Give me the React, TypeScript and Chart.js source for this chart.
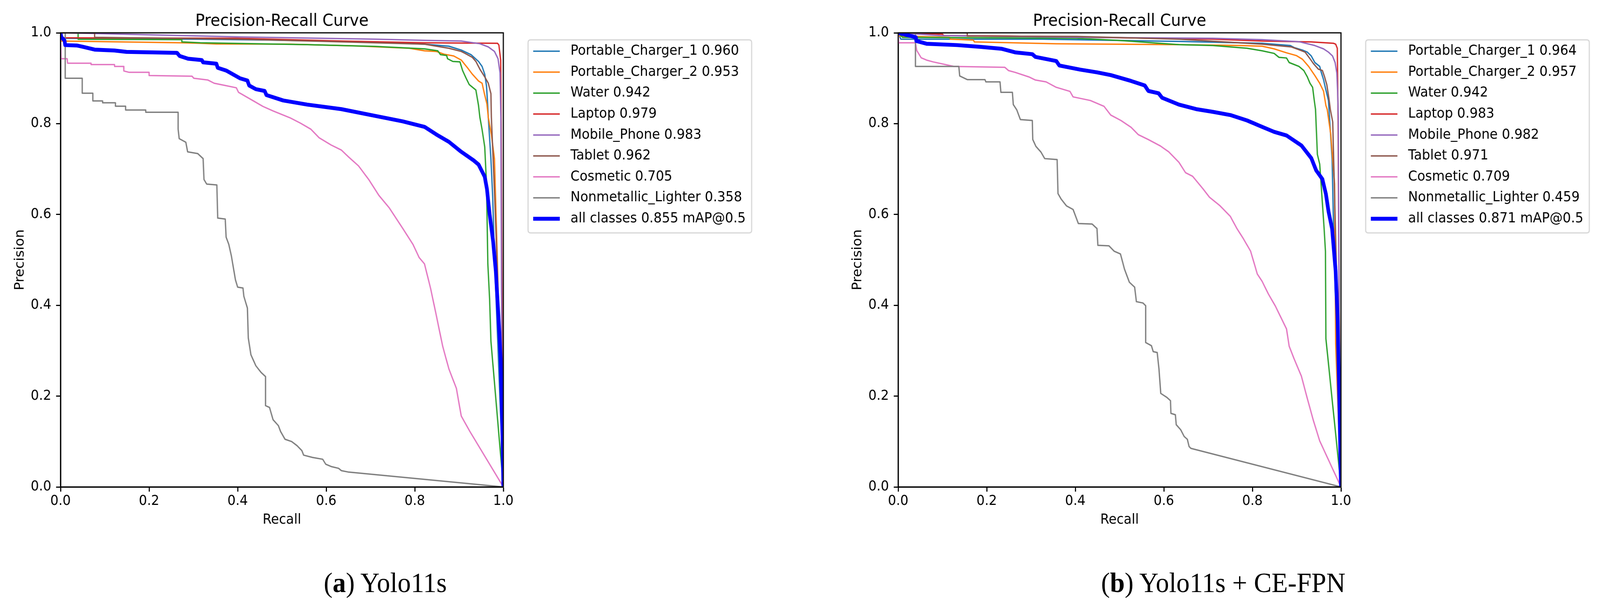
import React, { useEffect, useRef } from "react";
import { Chart, registerables } from "chart.js";

Chart.register(...registerables);

type Pt = [number, number];

// ---------- data ----------
const CLASS_NAMES = [
  "Portable_Charger_1",
  "Portable_Charger_2",
  "Water",
  "Laptop",
  "Mobile_Phone",
  "Tablet",
  "Cosmetic",
  "Nonmetallic_Lighter",
];
const CLASS_COLORS = ["#1f77b4", "#ff7f0e", "#2ca02c", "#d62728", "#9467bd", "#8c564b", "#e377c2", "#7f7f7f"];
const ALL_COLOR = "#0000ff";

const AP_A = [0.96, 0.953, 0.942, 0.979, 0.983, 0.962, 0.705, 0.358];
const AP_B = [0.964, 0.957, 0.942, 0.983, 0.982, 0.971, 0.709, 0.459];
const MAP_A = 0.855;
const MAP_B = 0.871;

const AXIS_TICKS = [0, 0.2, 0.4, 0.6, 0.8, 1.0];
const TITLE = "Precision-Recall Curve";
const X_TITLE = "Recall";
const Y_TITLE = "Precision";
const CAPTION_A = { tag: "a", text: "Yolo11s" };
const CAPTION_B = { tag: "b", text: "Yolo11s + CE-FPN" };

// ----- (a) Yolo11s : [recall, precision]
const PC1_A: Pt[] = [[0, 1.0], [0.005, 0.988], [0.3, 0.986], [0.48, 0.984], [0.711, 0.98], [0.822, 0.975], [0.877, 0.9705], [0.905, 0.962], [0.927, 0.952], [0.944, 0.937], [0.952, 0.926], [0.958, 0.909], [0.962, 0.883], [0.9647, 0.84], [0.966, 0.814], [0.972, 0.722], [0.976, 0.639], [0.98, 0.502], [0.9856, 0.365], [0.991, 0.228], [1.0, 0]];
const PC2_A: Pt[] = [[0, 0.982], [0.274, 0.978], [0.316, 0.977], [0.352, 0.9755], [0.518, 0.975], [0.673, 0.971], [0.788, 0.966], [0.822, 0.9604], [0.849, 0.959], [0.866, 0.953], [0.888, 0.949], [0.905, 0.94], [0.919, 0.923], [0.93, 0.909], [0.944, 0.894], [0.952, 0.889], [0.958, 0.863], [0.963, 0.843], [0.966, 0.814], [0.973, 0.776], [0.98, 0.722], [0.9856, 0.53], [0.992, 0.3], [1.0, 0]];
const WATER_A: Pt[] = [[0, 1.0], [0.0397, 1.0], [0.0397, 0.9857], [0.274, 0.985], [0.274, 0.98], [0.316, 0.978], [0.557, 0.974], [0.711, 0.97], [0.822, 0.9647], [0.852, 0.9604], [0.858, 0.952], [0.872, 0.95], [0.874, 0.943], [0.886, 0.937], [0.902, 0.936], [0.908, 0.917], [0.916, 0.9], [0.923, 0.886], [0.938, 0.874], [0.944, 0.84], [0.947, 0.814], [0.952, 0.787], [0.958, 0.749], [0.962, 0.667], [0.965, 0.491], [0.969, 0.414], [0.972, 0.321], [1.0, 0]];
const LAPTOP_A: Pt[] = [[0, 0.989], [0.4, 0.988], [0.634, 0.982], [0.82, 0.978], [0.987, 0.977], [0.99, 0.973], [0.994, 0.94], [0.995, 0.8], [0.997, 0.4], [0.999, 0.05], [1.0, 0]];
const MOBILE_A: Pt[] = [[0, 1.0], [0.058, 0.999], [0.405, 0.991], [0.711, 0.986], [0.822, 0.9834], [0.905, 0.982], [0.947, 0.976], [0.966, 0.969], [0.98, 0.959], [0.988, 0.943], [0.9925, 0.912], [0.9944, 0.814], [0.996, 0.4], [0.998, 0.05], [1.0, 0]];
const TABLET_A: Pt[] = [[0, 1.0], [0.077, 1.0], [0.077, 0.99], [0.4, 0.986], [0.6, 0.981], [0.822, 0.975], [0.877, 0.966], [0.905, 0.959], [0.913, 0.955], [0.93, 0.946], [0.938, 0.937], [0.947, 0.92], [0.958, 0.903], [0.966, 0.889], [0.972, 0.866], [0.973, 0.814], [0.977, 0.722], [0.98, 0.65], [0.9856, 0.502], [0.992, 0.3], [1.0, 0]];
const COSMETIC_A: Pt[] = [[0, 1.0], [0.001, 0.943], [0.015, 0.943], [0.016, 0.933], [0.069, 0.933], [0.069, 0.93], [0.122, 0.93], [0.122, 0.926], [0.1425, 0.926], [0.143, 0.916], [0.155, 0.913], [0.2, 0.913], [0.2, 0.906], [0.297, 0.9045], [0.301, 0.9], [0.333, 0.896], [0.347, 0.889], [0.372, 0.884], [0.397, 0.879], [0.402, 0.869], [0.434, 0.851], [0.457, 0.838], [0.48, 0.828], [0.518, 0.813], [0.542, 0.801], [0.565, 0.788], [0.584, 0.769], [0.611, 0.753], [0.634, 0.742], [0.649, 0.728], [0.673, 0.707], [0.696, 0.677], [0.719, 0.642], [0.742, 0.615], [0.773, 0.569], [0.796, 0.534], [0.81, 0.505], [0.822, 0.491], [0.836, 0.436], [0.849, 0.376], [0.863, 0.31], [0.877, 0.26], [0.894, 0.217], [0.905, 0.156], [0.924, 0.123], [1.0, 0]];
const LIGHTER_A: Pt[] = [[0, 1.0], [0.0106, 1.0], [0.0106, 0.9], [0.049, 0.9], [0.049, 0.867], [0.073, 0.867], [0.073, 0.85], [0.095, 0.85], [0.095, 0.846], [0.124, 0.846], [0.124, 0.8385], [0.147, 0.8385], [0.147, 0.83], [0.1925, 0.83], [0.1925, 0.825], [0.2656, 0.825], [0.2656, 0.788], [0.268, 0.767], [0.283, 0.759], [0.287, 0.738], [0.31, 0.734], [0.322, 0.723], [0.324, 0.677], [0.33, 0.667], [0.353, 0.665], [0.355, 0.592], [0.372, 0.59], [0.374, 0.55], [0.38, 0.534], [0.386, 0.508], [0.395, 0.456], [0.4, 0.44], [0.412, 0.438], [0.414, 0.42], [0.422, 0.394], [0.424, 0.328], [0.43, 0.291], [0.441, 0.267], [0.453, 0.252], [0.463, 0.243], [0.463, 0.179], [0.472, 0.175], [0.48, 0.148], [0.492, 0.135], [0.497, 0.122], [0.507, 0.105], [0.522, 0.1], [0.534, 0.091], [0.545, 0.08], [0.549, 0.07], [0.569, 0.065], [0.592, 0.061], [0.599, 0.05], [0.611, 0.045], [0.628, 0.041], [0.634, 0.036], [0.649, 0.033], [1.0, 0]];
const ALL_A: Pt[] = [[0, 1.0], [0.002, 0.9905], [0.009, 0.983], [0.0106, 0.973], [0.038, 0.972], [0.052, 0.969], [0.077, 0.963], [0.122, 0.961], [0.149, 0.958], [0.263, 0.956], [0.269, 0.949], [0.288, 0.943], [0.319, 0.94], [0.322, 0.935], [0.352, 0.932], [0.355, 0.923], [0.374, 0.917], [0.405, 0.9], [0.422, 0.895], [0.426, 0.884], [0.441, 0.876], [0.461, 0.872], [0.465, 0.863], [0.503, 0.851], [0.557, 0.842], [0.634, 0.832], [0.711, 0.817], [0.773, 0.805], [0.822, 0.793], [0.849, 0.776], [0.877, 0.76], [0.905, 0.738], [0.933, 0.719], [0.944, 0.71], [0.958, 0.683], [0.963, 0.656], [0.969, 0.601], [0.977, 0.54], [0.983, 0.475], [0.988, 0.392], [0.994, 0.283], [0.998, 0.118], [1.0, 0]];

// ----- (b) Yolo11s + CE-FPN
const PC1_B: Pt[] = [[0, 1.0], [0.006, 0.986], [0.326, 0.986], [0.634, 0.981], [0.822, 0.977], [0.8856, 0.972], [0.894, 0.9676], [0.913, 0.962], [0.924, 0.9575], [0.933, 0.949], [0.941, 0.9346], [0.952, 0.926], [0.955, 0.9145], [0.9606, 0.897], [0.966, 0.874], [0.9717, 0.851], [0.973, 0.831], [0.98, 0.722], [0.983, 0.584], [0.988, 0.392], [1.0, 0]];
const PC2_B: Pt[] = [[0, 0.993], [0.116, 0.99], [0.118, 0.986], [0.17, 0.984], [0.172, 0.98], [0.357, 0.976], [0.634, 0.974], [0.773, 0.972], [0.822, 0.9705], [0.849, 0.9647], [0.877, 0.956], [0.899, 0.95], [0.913, 0.9418], [0.927, 0.926], [0.941, 0.906], [0.952, 0.889], [0.9606, 0.8715], [0.966, 0.84], [0.969, 0.831], [0.977, 0.776], [0.9856, 0.667], [0.988, 0.315], [1.0, 0]];
const WATER_B: Pt[] = [[0, 1.0], [0.01, 0.99], [0.403, 0.988], [0.503, 0.983], [0.634, 0.974], [0.711, 0.972], [0.788, 0.966], [0.822, 0.9604], [0.849, 0.9547], [0.86, 0.946], [0.877, 0.9446], [0.883, 0.9346], [0.905, 0.926], [0.916, 0.917], [0.924, 0.903], [0.93, 0.889], [0.936, 0.88], [0.9397, 0.851], [0.9425, 0.8313], [0.9467, 0.7325], [0.952, 0.711], [0.962, 0.568], [0.965, 0.5185], [0.966, 0.3264], [0.995, 0.05], [1.0, 0]];
const LAPTOP_B: Pt[] = [[0, 1.0], [0.1, 0.997], [0.103, 0.994], [0.249, 0.993], [0.711, 0.986], [0.822, 0.982], [0.933, 0.98], [0.983, 0.977], [0.988, 0.975], [0.9917, 0.966], [0.9934, 0.814], [0.996, 0.4], [0.998, 0.05], [1.0, 0]];
const MOBILE_B: Pt[] = [[0, 1.0], [0.094, 0.994], [0.403, 0.99], [0.711, 0.988], [0.822, 0.985], [0.905, 0.9805], [0.941, 0.972], [0.9606, 0.9647], [0.9717, 0.9575], [0.981, 0.949], [0.9867, 0.9346], [0.9906, 0.9116], [0.9925, 0.8686], [0.994, 0.814], [0.996, 0.4], [0.998, 0.05], [1.0, 0]];
const TABLET_B: Pt[] = [[0, 1.0], [0.156, 1.0], [0.156, 0.993], [0.403, 0.992], [0.634, 0.986], [0.822, 0.975], [0.888, 0.969], [0.905, 0.963], [0.919, 0.9575], [0.93, 0.943], [0.938, 0.932], [0.949, 0.92], [0.958, 0.917], [0.963, 0.903], [0.968, 0.886], [0.973, 0.854], [0.976, 0.831], [0.9814, 0.804], [0.9856, 0.639], [0.99, 0.475], [1.0, 0]];
const COSMETIC_B: Pt[] = [[0, 1.0], [0.001, 0.978], [0.039, 0.978], [0.042, 0.961], [0.052, 0.945], [0.064, 0.94], [0.079, 0.936], [0.126, 0.926], [0.241, 0.924], [0.249, 0.917], [0.264, 0.913], [0.295, 0.903], [0.31, 0.896], [0.334, 0.892], [0.357, 0.88], [0.388, 0.871], [0.395, 0.859], [0.434, 0.851], [0.465, 0.838], [0.48, 0.819], [0.503, 0.807], [0.526, 0.792], [0.542, 0.776], [0.565, 0.765], [0.592, 0.751], [0.611, 0.738], [0.634, 0.715], [0.649, 0.692], [0.665, 0.684], [0.688, 0.657], [0.703, 0.638], [0.727, 0.619], [0.75, 0.596], [0.765, 0.569], [0.78, 0.546], [0.796, 0.519], [0.811, 0.469], [0.822, 0.4527], [0.836, 0.425], [0.852, 0.398], [0.863, 0.376], [0.877, 0.348], [0.883, 0.31], [0.894, 0.2825], [0.9106, 0.244], [0.924, 0.1947], [0.938, 0.1453], [0.952, 0.1014], [1.0, 0]];
const LIGHTER_B: Pt[] = [[0, 1.0], [0.039, 1.0], [0.039, 0.926], [0.137, 0.926], [0.139, 0.905], [0.156, 0.897], [0.196, 0.897], [0.198, 0.892], [0.23, 0.892], [0.232, 0.869], [0.258, 0.869], [0.26, 0.842], [0.268, 0.83], [0.276, 0.809], [0.303, 0.807], [0.304, 0.765], [0.311, 0.75], [0.322, 0.738], [0.331, 0.723], [0.359, 0.721], [0.361, 0.646], [0.368, 0.634], [0.38, 0.619], [0.395, 0.611], [0.407, 0.58], [0.438, 0.579], [0.449, 0.569], [0.451, 0.532], [0.476, 0.531], [0.488, 0.519], [0.502, 0.513], [0.511, 0.48], [0.522, 0.451], [0.534, 0.44], [0.538, 0.408], [0.553, 0.405], [0.559, 0.399], [0.559, 0.318], [0.572, 0.311], [0.576, 0.298], [0.585, 0.296], [0.589, 0.26], [0.593, 0.206], [0.607, 0.197], [0.615, 0.19], [0.616, 0.162], [0.626, 0.159], [0.628, 0.137], [0.638, 0.126], [0.646, 0.111], [0.653, 0.105], [0.657, 0.089], [0.661, 0.085], [1.0, 0]];
const ALL_B: Pt[] = [[0, 1.0], [0.029, 0.993], [0.04, 0.99], [0.041, 0.982], [0.064, 0.976], [0.133, 0.973], [0.187, 0.969], [0.233, 0.965], [0.264, 0.957], [0.303, 0.953], [0.31, 0.947], [0.357, 0.938], [0.364, 0.928], [0.411, 0.919], [0.449, 0.913], [0.48, 0.907], [0.526, 0.894], [0.557, 0.884], [0.565, 0.872], [0.588, 0.867], [0.596, 0.857], [0.634, 0.842], [0.673, 0.832], [0.711, 0.826], [0.75, 0.819], [0.788, 0.807], [0.822, 0.793], [0.849, 0.782], [0.877, 0.774], [0.9106, 0.752], [0.933, 0.724], [0.944, 0.697], [0.958, 0.678], [0.966, 0.645], [0.972, 0.606], [0.98, 0.568], [0.988, 0.475], [0.9925, 0.365], [0.9967, 0.172], [1.0, 0]];

const CURVES_A = [PC1_A, PC2_A, WATER_A, LAPTOP_A, MOBILE_A, TABLET_A, COSMETIC_A, LIGHTER_A];
const CURVES_B = [PC1_B, PC2_B, WATER_B, LAPTOP_B, MOBILE_B, TABLET_B, COSMETIC_B, LIGHTER_B];

// ---------- layout (in reference pixels) ----------
const PAGE_W = 4336;
const PAGE_H = 1566;
const FONT = "'DejaVu Sans', sans-serif";
const CANVAS_W = 2168;
const CANVAS_H = 1420;
const PLOT_TOP = 84;
const PLOT_BOTTOM = 1246;
const Y_AXIS_W = 140;
const X_AXIS_H = 106;

const framePlugin = {
  id: "prFrame",
  afterDraw(chart: any) {
    const { ctx, chartArea: a } = chart;
    ctx.save();
    // axes frame (all four spines)
    ctx.strokeStyle = "#000";
    ctx.lineWidth = 3;
    ctx.strokeRect(a.left, a.top, a.right - a.left, a.bottom - a.top);
    // title
    ctx.fillStyle = "#000";
    ctx.font = `42.4px ${FONT}`;
    ctx.textAlign = "center";
    ctx.textBaseline = "alphabetic";
    ctx.fillText(TITLE, (a.left + a.right) / 2, 66);
    // legend frame
    const bx = a.right + 67;
    const by = 102;
    const bw = 606;
    const bh = 494;
    const r = 7;
    ctx.beginPath();
    ctx.moveTo(bx + r, by);
    ctx.lineTo(bx + bw - r, by);
    ctx.quadraticCurveTo(bx + bw, by, bx + bw, by + r);
    ctx.lineTo(bx + bw, by + bh - r);
    ctx.quadraticCurveTo(bx + bw, by + bh, bx + bw - r, by + bh);
    ctx.lineTo(bx + r, by + bh);
    ctx.quadraticCurveTo(bx, by + bh, bx, by + bh - r);
    ctx.lineTo(bx, by + r);
    ctx.quadraticCurveTo(bx, by, bx + r, by);
    ctx.closePath();
    ctx.fillStyle = "rgba(255,255,255,0.8)";
    ctx.fill();
    ctx.strokeStyle = "#d6d6d6";
    ctx.lineWidth = 3;
    ctx.stroke();
    // legend entries
    ctx.font = `35.3px ${FONT}`;
    ctx.textAlign = "left";
    ctx.textBaseline = "middle";
    chart.data.datasets.forEach((ds: any, i: number) => {
      const y = 131 + i * 53.6;
      ctx.beginPath();
      ctx.moveTo(a.right + 81, y);
      ctx.lineTo(a.right + 153, y);
      ctx.strokeStyle = ds.borderColor;
      ctx.lineWidth = ds.borderWidth;
      ctx.lineCap = "butt";
      ctx.stroke();
      ctx.fillStyle = "#000";
      ctx.fillText(ds.label, a.right + 182, y);
    });
    ctx.restore();
  },
};

type Props = { left: number; plotLeft: number; plotRight: number; curves: Pt[][]; all: Pt[]; ap: number[]; mapv: number; dpr: number };

function PRChart({ left, plotLeft, plotRight, curves, all, ap, mapv, dpr }: Props) {
  const ref = useRef<HTMLCanvasElement>(null);
  useEffect(() => {
    const canvas = ref.current!;
    const datasets: any[] = curves.map((c, i) => ({
      label: `${CLASS_NAMES[i]} ${ap[i].toFixed(3)}`,
      data: c.map(([x, y]) => ({ x, y })),
      borderColor: CLASS_COLORS[i],
      backgroundColor: CLASS_COLORS[i],
      borderWidth: 3.5,
      pointRadius: 0,
      tension: 0,
      fill: false,
      clip: 0,
      borderJoinStyle: "round",
      order: 8 - i,
    }));
    datasets.push({
      label: `all classes ${mapv.toFixed(3)} mAP@0.5`,
      data: all.map(([x, y]) => ({ x, y })),
      borderColor: ALL_COLOR,
      backgroundColor: ALL_COLOR,
      borderWidth: 10,
      pointRadius: 0,
      tension: 0,
      fill: false,
      clip: 0,
      borderJoinStyle: "round",
      order: 0,
    });
    const tickFont = { family: FONT, size: 35 };
    const zeroPad = (s: any) => {
      s.paddingLeft = 0;
      s.paddingRight = 0;
      s.paddingTop = 0;
      s.paddingBottom = 0;
    };
    const chart = new Chart(canvas, {
      type: "line",
      data: { datasets },
      plugins: [framePlugin],
      options: {
        animation: false,
        responsive: false,
        devicePixelRatio: dpr,
        layout: {
          padding: {
            left: plotLeft - Y_AXIS_W,
            right: CANVAS_W - plotRight,
            top: PLOT_TOP,
            bottom: CANVAS_H - PLOT_BOTTOM - X_AXIS_H,
          },
        },
        plugins: { legend: { display: false }, title: { display: false }, tooltip: { enabled: false } },
        scales: {
          x: {
            type: "linear",
            min: 0,
            max: 1,
            afterBuildTicks: (s: any) => {
              s.ticks = AXIS_TICKS.map((v) => ({ value: v }));
            },
            afterFit: (s: any) => {
              s.height = X_AXIS_H;
              zeroPad(s);
            },
            ticks: {
              callback: (v: any) => Number(v).toFixed(1),
              font: tickFont,
              color: "#000",
              padding: 4,
              maxRotation: 0,
              autoSkip: false,
            },
            grid: { drawOnChartArea: false, drawTicks: true, tickLength: 12, tickWidth: 3, tickColor: "#000" },
            border: { display: true, color: "#000", width: 3 },
            title: { display: true, text: X_TITLE, font: tickFont, color: "#000", padding: { top: 0, bottom: 0 } },
          },
          y: {
            type: "linear",
            min: 0,
            max: 1,
            afterBuildTicks: (s: any) => {
              s.ticks = AXIS_TICKS.map((v) => ({ value: v }));
            },
            afterFit: (s: any) => {
              s.width = Y_AXIS_W;
              zeroPad(s);
            },
            ticks: {
              callback: (v: any) => Number(v).toFixed(1),
              font: tickFont,
              color: "#000",
              padding: 13,
              autoSkip: false,
            },
            grid: { drawOnChartArea: false, drawTicks: true, tickLength: 12, tickWidth: 3, tickColor: "#000" },
            border: { display: true, color: "#000", width: 3 },
            title: { display: true, text: Y_TITLE, font: tickFont, color: "#000", padding: { top: 10, bottom: 0 } },
          },
        },
      } as any,
    });
    return () => chart.destroy();
  }, []);
  return (
    <canvas
      ref={ref}
      style={{ position: "absolute", left, top: 0, width: CANVAS_W, height: CANVAS_H }}
      width={Math.round(CANVAS_W * dpr)}
      height={Math.round(CANVAS_H * dpr)}
    />
  );
}

function Caption({ center, tag, text }: { center: number; tag: string; text: string }) {
  return (
    <div
      style={{
        position: "absolute",
        left: center,
        top: 1455,
        transform: "translateX(-50%)",
        whiteSpace: "nowrap",
        fontFamily: "'Liberation Serif', serif",
        fontSize: 72,
        lineHeight: "72px",
        color: "#000",
      }}
    >
      (<b>{tag}</b>) {text}
    </div>
  );
}

export default function App() {
  const iw = typeof window !== "undefined" ? window.innerWidth : PAGE_W;
  const ih = typeof window !== "undefined" ? window.innerHeight : PAGE_H;
  const wdpr = typeof window !== "undefined" ? window.devicePixelRatio || 1 : 1;
  // fit the 4336x1566 composition to the actual viewport
  const sx = iw / PAGE_W;
  const sy = ih / PAGE_H;
  const dpr = wdpr * Math.max(sx, sy);
  return (
    <div
      style={{
        position: "absolute",
        left: 0,
        top: 0,
        width: PAGE_W * sx,
        height: PAGE_H * sy,
        overflow: "hidden",
        background: "#fff",
      }}
    >
      <div
        style={{
          position: "absolute",
          left: 0,
          top: 0,
          width: PAGE_W,
          height: PAGE_H,
          transform: `scale(${sx}, ${sy})`,
          transformOrigin: "0 0",
          background: "#fff",
        }}
      >
        <PRChart left={0} plotLeft={164} plotRight={1364} curves={CURVES_A} all={ALL_A} ap={AP_A} mapv={MAP_A} dpr={dpr} />
        <PRChart left={2168} plotLeft={266} plotRight={1466} curves={CURVES_B} all={ALL_B} ap={AP_B} mapv={MAP_B} dpr={dpr} />
        <Caption center={1044} tag={CAPTION_A.tag} text={CAPTION_A.text} />
        <Caption center={3315} tag={CAPTION_B.tag} text={CAPTION_B.text} />
      </div>
    </div>
  );
}
